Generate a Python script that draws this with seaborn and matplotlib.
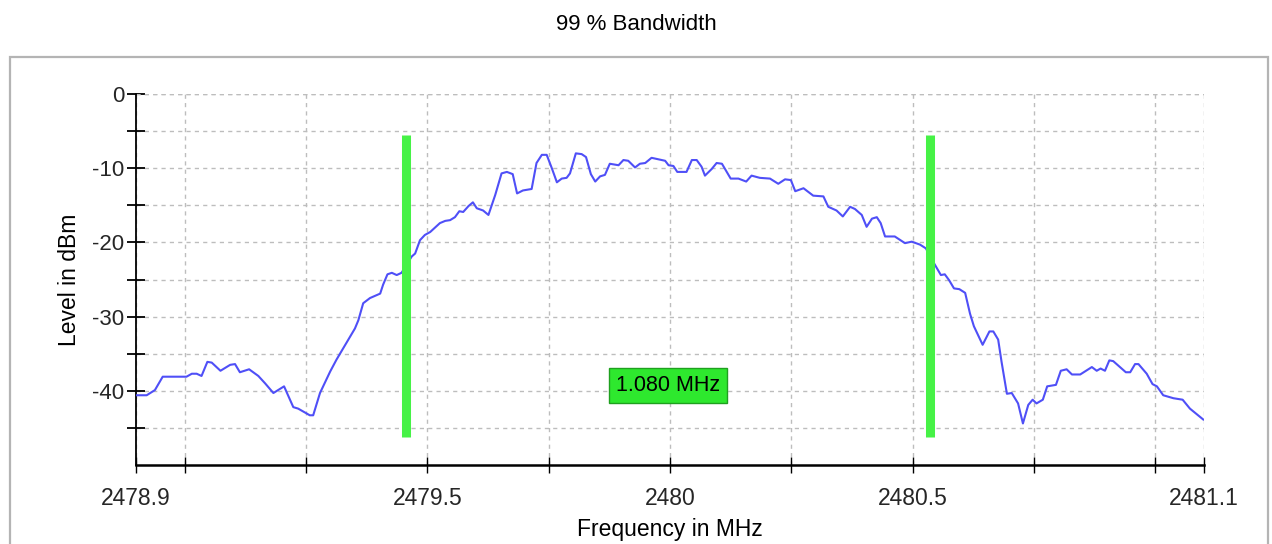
import matplotlib
matplotlib.use('Agg')
import matplotlib.pyplot as plt
from matplotlib.patches import Rectangle
import seaborn as sns
import pandas as pd

# trace (MHz, dBm)
freq = [2478.900, 2478.922, 2478.939, 2478.955, 2479.004, 2479.015, 2479.025, 2479.035,
        2479.047, 2479.056, 2479.074, 2479.094, 2479.104, 2479.114, 2479.133, 2479.152,
        2479.166, 2479.183, 2479.205, 2479.224, 2479.234, 2479.258, 2479.265, 2479.279,
        2479.300, 2479.313, 2479.331, 2479.351, 2479.358, 2479.368, 2479.382, 2479.403,
        2479.409, 2479.418, 2479.427, 2479.437, 2479.447, 2479.468, 2479.475, 2479.485,
        2479.495, 2479.506, 2479.526, 2479.537, 2479.547, 2479.557, 2479.566, 2479.574,
        2479.585, 2479.594, 2479.602, 2479.615, 2479.626, 2479.640, 2479.653, 2479.664,
        2479.676, 2479.685, 2479.697, 2479.715, 2479.725, 2479.736, 2479.746, 2479.756,
        2479.767, 2479.777, 2479.787, 2479.794, 2479.806, 2479.818, 2479.827, 2479.837,
        2479.846, 2479.856, 2479.866, 2479.876, 2479.894, 2479.904, 2479.914, 2479.928,
        2479.938, 2479.949, 2479.962, 2479.976, 2479.990, 2479.997, 2480.007, 2480.015,
        2480.034, 2480.045, 2480.055, 2480.065, 2480.072, 2480.086, 2480.096, 2480.107,
        2480.125, 2480.141, 2480.157, 2480.168, 2480.185, 2480.206, 2480.223, 2480.237,
        2480.249, 2480.258, 2480.275, 2480.295, 2480.316, 2480.326, 2480.343, 2480.356,
        2480.371, 2480.381, 2480.395, 2480.405, 2480.416, 2480.426, 2480.434, 2480.443,
        2480.463, 2480.484, 2480.498, 2480.515, 2480.527, 2480.542, 2480.558, 2480.566,
        2480.575, 2480.585, 2480.596, 2480.608, 2480.618, 2480.626, 2480.644, 2480.658,
        2480.666, 2480.676, 2480.683, 2480.694, 2480.704, 2480.717, 2480.727, 2480.738,
        2480.747, 2480.755, 2480.768, 2480.777, 2480.795, 2480.805, 2480.817, 2480.828,
        2480.845, 2480.869, 2480.879, 2480.887, 2480.896, 2480.905, 2480.913, 2480.939,
        2480.948, 2480.958, 2480.965, 2480.982, 2480.994, 2481.003, 2481.016, 2481.037,
        2481.056, 2481.071, 2481.099]
level = [-40.6, -40.6, -39.9, -38.1, -38.1, -37.7, -37.7, -38.0,
         -36.1, -36.2, -37.3, -36.5, -36.4, -37.5, -37.1, -38.0,
         -39.0, -40.3, -39.4, -42.2, -42.4, -43.3, -43.3, -40.3,
         -37.4, -35.8, -33.8, -31.6, -30.5, -28.2, -27.5, -26.9,
         -25.7, -24.3, -24.1, -24.4, -24.1, -21.9, -21.5, -19.7,
         -19.0, -18.6, -17.4, -17.1, -17.0, -16.6, -15.8, -15.9,
         -15.1, -14.6, -15.4, -15.7, -16.3, -13.6, -10.7, -10.5,
         -10.8, -13.4, -13.0, -12.8, -9.3, -8.2, -8.2, -9.9,
         -11.9, -11.4, -11.3, -10.7, -8.0, -8.1, -8.5, -10.8,
         -11.8, -11.1, -10.9, -9.4, -9.6, -8.9, -9.0, -9.9,
         -9.4, -9.3, -8.6, -8.8, -9.0, -9.6, -9.7, -10.5,
         -10.5, -8.9, -8.9, -9.8, -11.0, -10.1, -9.3, -9.4,
         -11.4, -11.4, -11.8, -11.0, -11.3, -11.4, -12.1, -11.5,
         -11.6, -13.1, -12.7, -13.7, -13.8, -15.2, -15.7, -16.5,
         -15.2, -15.5, -16.3, -17.9, -16.8, -16.6, -17.4, -19.2,
         -19.2, -20.1, -19.9, -20.3, -20.8, -22.6, -24.4, -24.3,
         -25.1, -26.2, -26.3, -26.8, -29.6, -31.3, -33.8, -32.0,
         -32.0, -33.1, -36.1, -40.4, -40.3, -41.7, -44.4, -41.9,
         -41.2, -41.7, -41.2, -39.4, -39.2, -37.3, -37.1, -37.8,
         -37.8, -36.8, -37.3, -37.0, -37.3, -35.9, -36.0, -37.5,
         -37.5, -36.4, -36.4, -37.7, -39.1, -39.4, -40.6, -41.0,
         -41.2, -42.4, -43.9]

# 99 % bandwidth markers
bw_lower = 2479.456
bw_upper = 2480.536
bw_label = '1.080 MHz'

x_ticks = [2478.9, 2479.0, 2479.25, 2479.5, 2479.75, 2480.0, 2480.25, 2480.5, 2480.75, 2481.0, 2481.1]
x_labels = ['2478.9', '', '', '2479.5', '', '2480', '', '2480.5', '', '', '2481.1']
y_ticks = [0, -5, -10, -15, -20, -25, -30, -35, -40, -45]
y_labels = ['0', '', '-10', '', '-20', '', '-30', '', '-40', '']

sns.set_theme(style='white')
plt.rcParams['font.family'] = ['Liberation Sans', 'DejaVu Sans']

fig = plt.figure(figsize=(12.72, 5.44), dpi=100)

# grey panel frame behind the plot
bg = fig.add_axes([0, 0, 1, 1], zorder=-1)
bg.axis('off')
bg.add_patch(Rectangle((10 / 1272, -0.02), 1258 / 1272, (544 - 57) / 544 + 0.02,
                       transform=bg.transAxes, facecolor='white',
                       edgecolor='#b4b4b4', lw=1.6))

ax = fig.add_axes([136 / 1272, 1 - 465 / 544, (1204 - 136) / 1272, (465 - 94) / 544], zorder=1)
ax.set_facecolor('none')

df = pd.DataFrame({'freq': freq, 'level': level})
sns.lineplot(data=df, x='freq', y='level', ax=ax, color='#4f4ff7', lw=1.5,
             estimator=None, zorder=3)

ax.vlines([bw_lower, bw_upper], -46.2, -5.5, colors='#46f246', lw=6.5, zorder=4)
ax.text((bw_lower + bw_upper) / 2, -39.3, bw_label, ha='center', va='center',
        fontsize=15.5, color='black', zorder=5,
        bbox=dict(boxstyle='square,pad=0.32', facecolor='#2ee82e', edgecolor='#1fa01f', lw=1))

ax.set_xlim(2478.9, 2481.1)
ax.set_ylim(-50, 0)
ax.set_xticks(x_ticks)
ax.set_xticklabels(x_labels)
ax.set_yticks(y_ticks)
ax.set_yticklabels(y_labels)
ax.tick_params(axis='y', direction='inout', length=13, width=1.3, color='black',
               labelsize=16, pad=2, left=True)
ax.tick_params(axis='x', direction='inout', length=11, width=1.0, color='black',
               labelsize=16.5, pad=10, bottom=True)

ax.grid(True, color='#bdbdbd', ls=(0, (3, 3)), lw=1.0)
ax.axhline(0, color='#bdbdbd', ls=(0, (3, 3)), lw=1.0, zorder=1)

for side in ['top', 'right']:
    ax.spines[side].set_visible(False)
ax.spines['left'].set_color('black')
ax.spines['left'].set_linewidth(1.3)
ax.spines['bottom'].set_color('black')
ax.spines['bottom'].set_linewidth(1.8)

ax.set_xlabel('Frequency in MHz', fontsize=16.5, color='black', labelpad=6)
ax.set_ylabel('Level in dBm', fontsize=16.5, color='black', labelpad=8)
fig.text(0.5, 1 - 25 / 544, '99 % Bandwidth', ha='center', va='center', fontsize=16, color='black')

fig.savefig('out.png', dpi=100)
